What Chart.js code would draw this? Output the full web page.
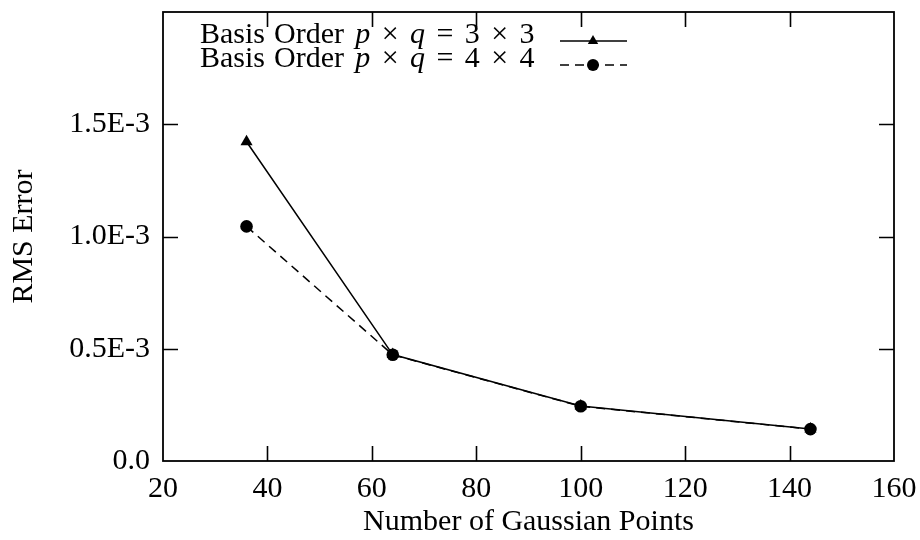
<!DOCTYPE html>
<html><head><meta charset="utf-8">
<script src="https://cdn.jsdelivr.net/npm/chart.js@4.4.1/dist/chart.umd.min.js"></script>
<style>html,body{margin:0;padding:0;background:#fff}#wrap{width:920px;height:540px}</style>
</head><body><div id="wrap"><canvas id="c" width="920" height="540"></canvas></div>
<script>
// ---- data ----
const gaussPoints = [36, 64, 100, 144];
const rms3x3 = [1.422e-3, 0.474e-3, 0.245e-3, 0.143e-3];
const rms4x4 = [1.045e-3, 0.473e-3, 0.244e-3, 0.142e-3];
const seriesLabels = ['Basis Order p × q = 3 × 3', 'Basis Order p × q = 4 × 4'];
const xTickValues = [20, 40, 60, 80, 100, 120, 140, 160];
const yTickValues = [0, 0.5e-3, 1.0e-3, 1.5e-3];
const yTickLabels = ['0.0', '0.5E-3', '1.0E-3', '1.5E-3'];
const xTitle = 'Number of Gaussian Points';
const yTitle = 'RMS Error';

const FONT = '"Liberation Serif", "Times New Roman", serif';

const framePlugin = {
  id: 'frame',
  afterDatasetsDraw(chart) {
    const {ctx, chartArea: a, scales: {x, y}} = chart;
    ctx.save();
    ctx.strokeStyle = '#000';
    ctx.lineWidth = 1.8;
    ctx.strokeRect(a.left, a.top, a.right - a.left, a.bottom - a.top);
    ctx.lineWidth = 1.6;
    const L = 15;
    ctx.beginPath();
    x.ticks.forEach(t => {
      const px = Math.round(x.getPixelForValue(t.value)) + 0.5;
      if (px <= a.left + 2 || px >= a.right - 2) return;
      ctx.moveTo(px, a.bottom); ctx.lineTo(px, a.bottom - L);
      ctx.moveTo(px, a.top); ctx.lineTo(px, a.top + L);
    });
    y.ticks.forEach(t => {
      const py = Math.round(y.getPixelForValue(t.value)) + 0.5;
      if (py >= a.bottom - 2 || py <= a.top + 2) return;
      ctx.moveTo(a.left, py); ctx.lineTo(a.left + L, py);
      ctx.moveTo(a.right, py); ctx.lineTo(a.right - L, py);
    });
    ctx.stroke();
    ctx.restore();
  }
};

function drawMarker(ctx, style, r, cx, cy) {
  ctx.beginPath();
  if (style === 'triangle') {
    ctx.moveTo(cx, cy - r);
    ctx.lineTo(cx + r * Math.cos(Math.PI / 6), cy + r / 2);
    ctx.lineTo(cx - r * Math.cos(Math.PI / 6), cy + r / 2);
    ctx.closePath();
  } else {
    ctx.arc(cx, cy, r, 0, Math.PI * 2);
  }
  ctx.fill();
}

const legendPlugin = {
  id: 'texLegend',
  afterDraw(chart) {
    const ctx = chart.ctx;
    ctx.save();
    const fs = 30;
    const gap = 0.38 * fs;
    chart.data.datasets.forEach((ds, i) => {
      const baseY = 43 + i * 24;
      let xx = 200;
      ctx.fillStyle = '#000';
      ctx.textBaseline = 'alphabetic';
      ctx.textAlign = 'left';
      ds.label.split(' ').forEach((tok, k) => {
        const ital = /^[pq]$/.test(tok);
        ctx.font = (ital ? 'italic ' : '') + fs + 'px ' + FONT;
        if (k > 0) xx += (k === 1 ? 0.3 * fs : gap);
        ctx.fillText(tok, xx, baseY);
        xx += ctx.measureText(tok).width;
      });
      const ly = baseY - 2;
      ctx.strokeStyle = '#000';
      ctx.lineWidth = 1.5;
      ctx.setLineDash(ds.borderDash || []);
      ctx.beginPath();
      ctx.moveTo(560, ly); ctx.lineTo(627, ly);
      ctx.stroke();
      ctx.setLineDash([]);
      drawMarker(ctx, ds.pointStyle, ds.pointStyle === 'triangle' ? 6 : 6, 593, ly);
    });
    ctx.restore();
  }
};

new Chart(document.getElementById('c'), {
  type: 'line',
  data: {
    datasets: [
      {
        label: seriesLabels[0],
        data: gaussPoints.map((v, i) => ({x: v, y: rms3x3[i]})),
        borderColor: '#000', backgroundColor: '#000',
        borderWidth: 1.5, pointStyle: 'triangle', pointRadius: 7,
        pointBorderWidth: 0, tension: 0, order: 2
      },
      {
        label: seriesLabels[1],
        data: gaussPoints.map((v, i) => ({x: v, y: rms4x4[i]})),
        borderColor: '#000', backgroundColor: '#000',
        borderWidth: 1.5, borderDash: [9, 6], pointStyle: 'circle', pointRadius: 6.3,
        pointBorderWidth: 0, tension: 0, order: 1
      }
    ]
  },
  options: {
    responsive: false,
    animation: false,
    layout: {padding: {left: 0, right: 26, top: 12, bottom: 0}},
    plugins: {legend: {display: false}, tooltip: {enabled: false}},
    scales: {
      x: {
        type: 'linear', min: 20, max: 160,
        afterBuildTicks: s => { s.ticks = xTickValues.map(v => ({value: v})); },
        afterFit: s => { s.height = 79; s.paddingLeft = 0; s.paddingRight = 0; },
        grid: {display: false, drawTicks: false},
        border: {display: false},
        ticks: {font: {family: FONT, size: 30}, color: '#000', padding: 10, maxRotation: 0, autoSkip: false},
        title: {display: true, text: xTitle, font: {family: FONT, size: 30}, color: '#000', padding: {top: 0, bottom: 0}}
      },
      y: {
        type: 'linear', min: 0, max: 2.0e-3,
        afterBuildTicks: s => { s.ticks = yTickValues.map(v => ({value: v})); },
        afterFit: s => { s.width = 163; s.paddingTop = 0; s.paddingBottom = 0; },
        grid: {display: false, drawTicks: false},
        border: {display: false},
        ticks: {font: {family: FONT, size: 30}, color: '#000', padding: 13, autoSkip: false,
          callback: (v, i) => yTickLabels[i]},
        title: {display: true, text: yTitle, font: {family: FONT, size: 30}, color: '#000', padding: {top: 6, bottom: 0}}
      }
    }
  },
  plugins: [framePlugin, legendPlugin]
});
</script>
</body></html>
